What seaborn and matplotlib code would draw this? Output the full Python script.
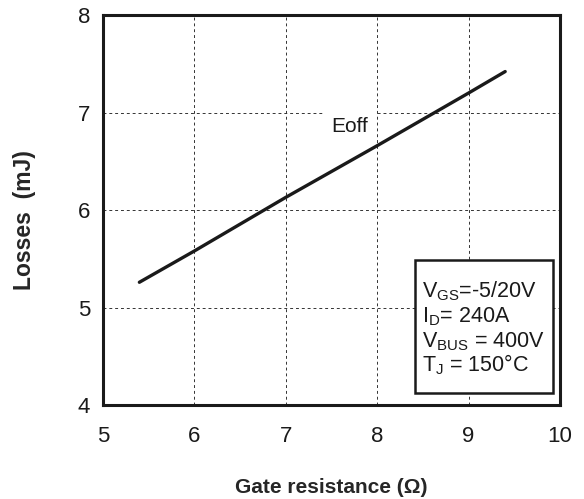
import matplotlib
matplotlib.use('Agg')
import matplotlib.pyplot as plt
import matplotlib.patches as mpatches
import seaborn as sns
import pandas as pd

sns.set_style('white')
plt.rcParams['font.family'] = ['Liberation Sans', 'DejaVu Sans']
plt.rcParams['mathtext.fontset'] = 'custom'
plt.rcParams['mathtext.rm'] = 'Liberation Sans'
plt.rcParams['mathtext.it'] = 'Liberation Sans'

# Eoff vs gate resistance
rg = [5.4, 6.0, 7.0, 8.0, 9.0, 9.4]
eoff = [5.26, 5.58, 6.13, 6.66, 7.20, 7.42]
x_ticks = [5, 6, 7, 8, 9, 10]
y_ticks = [4, 5, 6, 7, 8]
cond_lines = [r'V$_{\rm GS}$=-5/20V', r'I$_{\rm D}$= 240A',
              r'V$_{\rm BUS}$ = 400V', r'T$_{\rm J}$ = 150°C']

df = pd.DataFrame({'Rg': rg, 'Eoff': eoff})

fig = plt.figure(figsize=(5.84, 4.99), dpi=100)
ax = fig.add_axes([0.176, 0.188, 0.783, 0.782])

sns.lineplot(data=df, x='Rg', y='Eoff', color='#1a1a1a', linewidth=2.4, ax=ax)

ax.set_xlim(5, 10)
ax.set_ylim(4, 8)
ax.set_xticks(x_ticks)
ax.set_yticks(y_ticks)
ax.grid(True, color='#333333', linestyle=(0, (3, 3)), linewidth=0.7)
for s in ax.spines.values():
    s.set_linewidth(2.2)
    s.set_color('#1a1a1a')
ax.tick_params(direction='inout', length=6, width=1.2, labelsize=16,
               colors='#1a1a1a')
ax.tick_params(axis='x', pad=12)
ax.tick_params(axis='y', pad=6)

ax.set_xlabel('Gate resistance (Ω)', fontsize=15, fontweight='bold', labelpad=22)
ax.set_ylabel('Losses  (mJ)', fontsize=16.5, fontweight='bold')
ax.yaxis.set_label_coords(-0.145, 0.474)

ax.text(7.7, 6.86, 'Eoff', fontsize=15, ha='center', va='center', color='#1a1a1a',
        bbox=dict(facecolor='white', edgecolor='none', pad=5))

# conditions box
box = mpatches.Rectangle((8.41, 4.12), 1.51, 1.37, facecolor='white',
                         edgecolor='#1a1a1a', linewidth=1.8, zorder=3)
ax.add_patch(box)
base_y = [5.10, 4.845, 4.59, 4.345]
for txt, yb in zip(cond_lines, base_y):
    ax.text(8.49, yb, txt, fontsize=15.5, ha='left', va='baseline',
            color='#1a1a1a', zorder=4)

fig.savefig('out.png', dpi=100)
